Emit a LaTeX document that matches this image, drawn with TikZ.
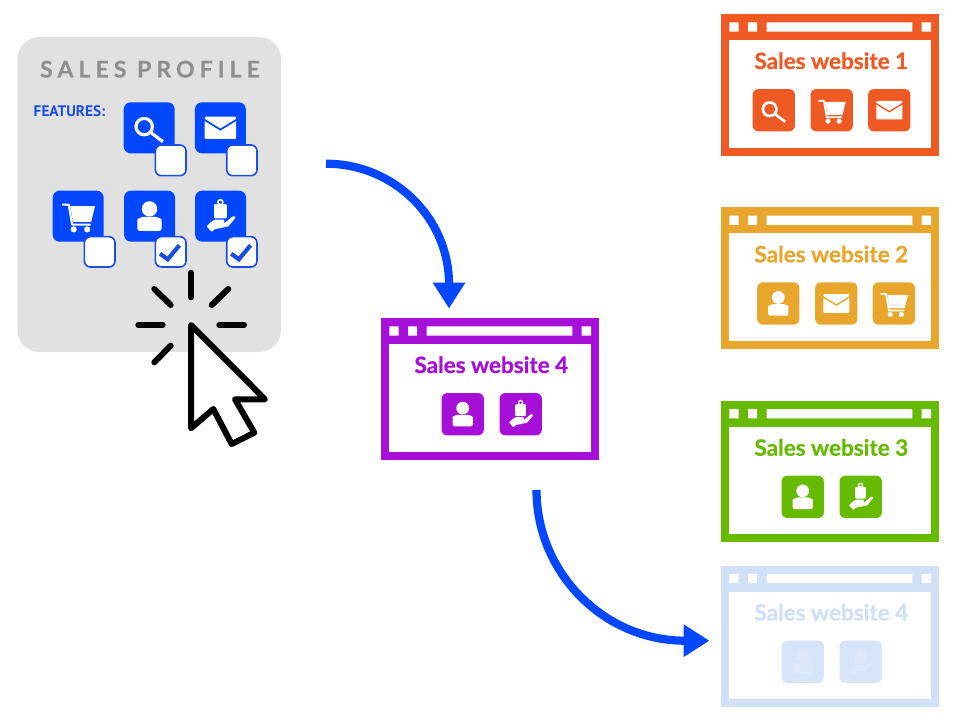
\documentclass[tikz,border=0pt]{standalone}
\usepackage{fontspec}
\setmainfont{Lato}[BoldFeatures={FakeBold=0.6}]
\newfontfamily\trackedfont{Lato}[LetterSpace=22,BoldFeatures={FakeBold=0.4}]
\newfontfamily\featfont{PT Sans}
\usetikzlibrary{arrows.meta}
\definecolor{brandblue}{HTML}{0047FF}
\definecolor{featblue}{HTML}{1A4EE0}
\definecolor{panelgray}{HTML}{E1E1E1}
\definecolor{titlegray}{HTML}{8F8F8F}
\definecolor{siteorange}{HTML}{EF5A24}
\definecolor{siteyellow}{HTML}{E8A72C}
\definecolor{sitegreen}{HTML}{66BB00}
\definecolor{sitepurple}{HTML}{A50FD8}
\definecolor{sitefaded}{HTML}{CFE0F7}
\definecolor{tilefaded}{HTML}{D6E5F9}
\definecolor{iconfaded}{HTML}{DDE9FA}
\tikzset{
  flowarrow/.style={draw=brandblue,line width=8.2pt,-{Triangle[length=26pt,width=31pt,fill=brandblue]}},
  ray/.style={line width=6pt,line cap=round,black},
  sitebox/.style={draw=#1,fill=white,line width=8pt,minimum width=209.7pt,minimum height=133.7pt,inner sep=0pt},
  sitetitle/.style={font=\fontsize{22.5}{25}\selectfont\bfseries,anchor=base,inner sep=0pt},
  checkbox/.style={draw=featblue,fill=white,line width=1.6pt,rounded corners=6pt},
  checkmark/.style={draw=featblue,line width=4.2pt,miter limit=10},
}
% icons: drawn round the origin of a scope, for a tile 51 wide
\newcommand{\iconSearch}{%
  \draw[\ic,line width=3.2pt*\iconS] (-5,-1.2) circle (8.2);
  \draw[\ic,line width=3.2pt*\iconS] (1.4,4.6) -- (13.7,13.9);}
\newcommand{\iconMail}{%
  \fill[\ic,rounded corners=1pt*\iconS] (-15.7,-11.2) rectangle (15.7,11.2);
  \draw[\tc,line width=1.7pt*\iconS] (-17,-8.6) -- (0,1.8) -- (17,-8.6);}
\newcommand{\iconCart}{%
  \draw[\ic,line width=2.1pt*\iconS,line join=round] (-16,-11.5) -- (-9.5,-11.5) -- (-6,8.4) -- (12.5,8.4);
  \fill[\ic] (-8,-10) -- (16.8,-10) -- (13,5.6) -- (-5.2,5.6) -- cycle;
  \fill[\ic] (-4.5,13.2) circle (3.1) (9,13.2) circle (3.1);}
\newcommand{\iconUser}{%
  \fill[\ic] (0,-7.3) circle (7.7);
  \fill[\ic,rounded corners=2.5pt*\iconS] (-12.2,14.7) -- (-12.2,6) .. controls (-12.2,3) and (-8,0.7) .. (-4,0.7) -- (4,0.7) .. controls (8,0.7) and (12.2,3) .. (12.2,6) -- (12.2,14.7) -- cycle;}
\newcommand{\iconHand}{%
  \fill[\ic,rounded corners=1pt*\iconS] (-6.6,-12) rectangle (6.2,2.2);
  \draw[\ic,line width=1.5pt*\iconS] (-0.2,-14) circle (2.5);
  \fill[\ic,rounded corners=.6pt*\iconS] (-14,10.2) -- (-10.4,6.4) -- (-5.8,3.4) -- (3.2,3.4) -- (4,6) -- (0,7.6) -- (4.6,6.4) -- (12.8,-0.4) -- (15.2,1.2) -- (7.8,10.2) -- (-1.8,12.2) -- (-5.6,12.9) -- (-9,15.6) -- cycle;}
% \tile{x}{y}{scale}{tile colour}{icon colour}{icon}
\newcommand{\tile}[6]{%
  \begin{scope}[shift={(#1,#2)},scale=#3]
    \def\iconS{#3}\def\tc{#4}\def\ic{#5}
    \fill[#4,rounded corners=7pt*#3] (-25.5,-25.5) rectangle (25.5,25.5);
    #6
  \end{scope}}
% \website{name}{left}{top}{colour}{title}: frame, title bar and title
\newcommand{\website}[5]{%
  \node[sitebox=#4] (#1) at (#2+108.85,#3+70.85) {};
  \fill[#4] (#2+4,#3+4) rectangle (#2+213.7,#3+26);
  \fill[white] (#2+8,#3+8.3) rectangle (#2+17.4,#3+17.7)
               (#2+26.7,#3+8.3) rectangle (#2+35.7,#3+17.7)
               (#2+45.4,#3+8.3) rectangle (#2+191,#3+17.7)
               (#2+200.4,#3+8.3) rectangle (#2+209.7,#3+17.7);
  \node[sitetitle,text=#4] (#1-title) at (#2+110,#3+55) {#5};}
\newcommand{\sitetile}[6]{\tile{#1+#2}{#3+96.2}{0.83}{#4}{#5}{#6}}
\begin{document}
\begin{tikzpicture}[x=1pt,y=-1pt]
\useasboundingbox (0,0) rectangle (960,719);
\fill[white] (0,0) rectangle (960,719);
% sales profile panel
\node[fill=panelgray,rounded corners=22pt,minimum width=263.5pt,minimum height=315pt,inner sep=0pt] (panel) at (149.25,194.5) {};
\node[anchor=base,inner sep=0pt,text=titlegray,font=\trackedfont\fontsize{23}{26}\selectfont\bfseries] (paneltitle) at (150,77.5) {SALES PROFILE};
\node[anchor=base,inner sep=0pt,text=featblue,font=\featfont\fontsize{15.3}{17}\selectfont\bfseries] (features) at (69.5,117) {FEATURES:};
\tile{149.2}{127.8}{1}{brandblue}{white}{\iconSearch}
\tile{220.4}{127.8}{1}{brandblue}{white}{\iconMail}
\tile{78.2}{216.2}{1}{brandblue}{white}{\iconCart}
\tile{149.5}{216.2}{1}{brandblue}{white}{\iconUser}
\tile{220.6}{216.2}{1}{brandblue}{white}{\iconHand}
\draw[checkbox] (155.4,145) rectangle (186,175.7);
\draw[checkbox] (226.7,145) rectangle (257,175.7);
\draw[checkbox] (84.4,236.7) rectangle (115,267);
\draw[checkbox] (155.4,236.7) rectangle (186,267);
\draw[checkbox] (226.7,236.7) rectangle (257,267);
\draw[checkmark] (160,253.7) -- (167.7,259.3) -- (179.4,245.3);
\draw[checkmark] (231.2,253.7) -- (238.9,259.3) -- (250.6,245.3);
% cursor
\draw[ray] (191,272.7) -- (191,297.3);
\draw[ray] (154.3,289) -- (170.7,305);
\draw[ray] (228.3,289) -- (211.7,305);
\draw[ray] (138.3,325) -- (162.7,325);
\draw[ray] (219.3,325) -- (244,325);
\draw[ray] (154.3,362.3) -- (170.7,345.7);
\draw[fill=white,line width=6pt,line join=round] (191,325) -- (265,399.3) -- (235,399.3) -- (254.3,432.7) -- (231.7,444) -- (213.3,409) -- (191,428.3) -- cycle;
% websites
\website{siteone}{721.3}{14}{siteorange}{Sales website 1}
\sitetile{721.3}{52.5}{14}{siteorange}{white}{\iconSearch}
\sitetile{721.3}{110.4}{14}{siteorange}{white}{\iconCart}
\sitetile{721.3}{168}{14}{siteorange}{white}{\iconMail}
\website{sitetwo}{721.3}{207.3}{siteyellow}{Sales website 2}
\sitetile{721.3}{57}{207.3}{siteyellow}{white}{\iconUser}
\sitetile{721.3}{115}{207.3}{siteyellow}{white}{\iconMail}
\sitetile{721.3}{172.6}{207.3}{siteyellow}{white}{\iconCart}
\website{sitethree}{721.3}{400.7}{sitegreen}{Sales website 3}
\sitetile{721.3}{81.4}{400.7}{sitegreen}{white}{\iconUser}
\sitetile{721.3}{139.4}{400.7}{sitegreen}{white}{\iconHand}
\website{sitefour}{381.3}{318}{sitepurple}{Sales website 4}
\sitetile{381.3}{81.4}{318}{sitepurple}{white}{\iconUser}
\sitetile{381.3}{139.4}{318}{sitepurple}{white}{\iconHand}
\website{sitefourcopy}{721.3}{565.5}{sitefaded}{Sales website 4}
\sitetile{721.3}{81.4}{565.5}{tilefaded}{iconfaded}{\iconUser}
\sitetile{721.3}{139.4}{565.5}{tilefaded}{iconfaded}{\iconHand}
% arrows
\coordinate (arrowonestart) at (326,163.7);
\coordinate (arrowonetip) at (449,308.5);
\coordinate (arrowtwostart) at (536.5,490);
\coordinate (arrowtwotip) at (709.5,640.7);
\draw[flowarrow] (arrowonestart) .. controls (394,163.7) and (449,218) .. (arrowonetip);
\draw[flowarrow] (arrowtwostart) .. controls (536.5,572) and (603,640.7) .. (arrowtwotip);
\end{tikzpicture}
\end{document}
